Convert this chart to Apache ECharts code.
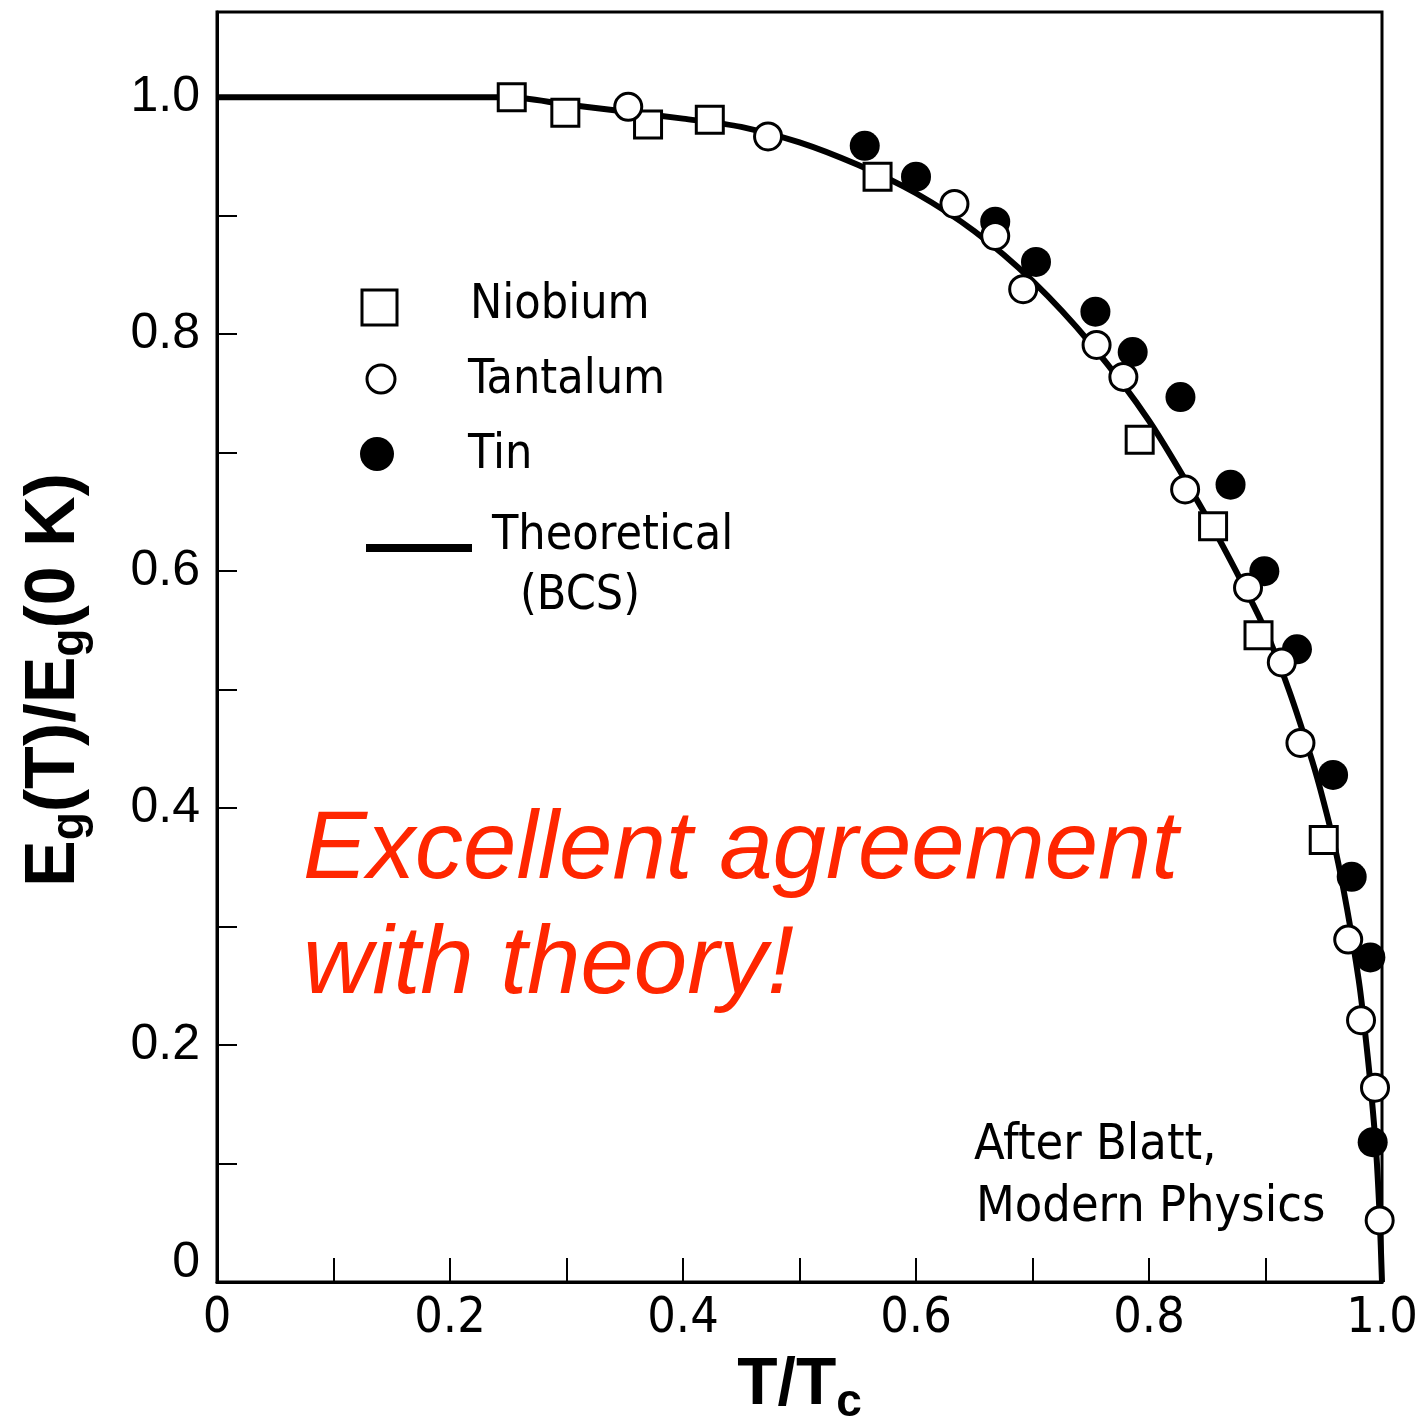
<!DOCTYPE html>
<html>
<head>
<meta charset="utf-8">
<title>Energy gap vs temperature</title>
<script src="https://cdn.jsdelivr.net/npm/echarts@6/dist/echarts.min.js"></script>
<style>
  html, body { margin: 0; padding: 0; background: #fff; }
  #chart { width: 1416px; height: 1425px; }
</style>
</head>
<body>
<div id="chart"></div>
<script>
/* ── Data ─────────────────────────────────────────────────────────── */
const niobium = [
    [0.253, 1.000], [0.299, 0.987], [0.370, 0.977], [0.423, 0.981], [0.567, 0.933],
    [0.792, 0.711], [0.855, 0.638], [0.894, 0.546], [0.950, 0.373]
];
const tantalum = [
    [0.353, 0.992], [0.473, 0.967], [0.633, 0.910], [0.668, 0.883], [0.692, 0.838],
    [0.755, 0.791], [0.778, 0.764], [0.831, 0.669], [0.885, 0.586], [0.914, 0.523],
    [0.930, 0.455], [0.971, 0.289], [0.982, 0.221], [0.994, 0.164], [0.998, 0.052]
];
const tin = [
    [0.556, 0.959], [0.600, 0.933], [0.668, 0.895], [0.703, 0.861], [0.754, 0.819],
    [0.786, 0.785], [0.827, 0.747], [0.870, 0.673], [0.899, 0.600], [0.927, 0.534],
    [0.958, 0.428], [0.974, 0.342], [0.990, 0.274], [0.992, 0.118]
];
// BCS theoretical curve
const bcsCurve = [
    [0, 1.0], [0.1, 1.0], [0.2, 1.0], [0.25, 1.0], [0.3, 0.994], [0.35, 0.988],
    [0.4, 0.982], [0.45, 0.975], [0.5, 0.962], [0.55, 0.943], [0.6, 0.919],
    [0.65, 0.887], [0.7, 0.845], [0.75, 0.792], [0.8, 0.727], [0.85, 0.645],
    [0.88, 0.590], [0.9, 0.550], [0.92, 0.500], [0.94, 0.440], [0.95, 0.405],
    [0.96, 0.365], [0.97, 0.315], [0.98, 0.255], [0.985, 0.215], [0.99, 0.168],
    [0.995, 0.110], [0.998, 0.055], [1.0, 0]
];
const legendNames = ['Niobium', 'Tantalum', 'Tin'];

/* ── Helpers ──────────────────────────────────────────────────────── */
const PIX = '"DejaVu Sans Condensed", "DejaVu Sans", sans-serif';
const SANS = '"Liberation Sans", Arial, sans-serif';

function tickLabel(v) {
    const k = Math.round(v * 10);
    if (k % 2 !== 0) return '';
    return k === 0 ? '0' : (k / 10).toFixed(1);
}

// y axis: the zero label sits a little above the axis in the original
function yTickLabel(v) {
    const s = tickLabel(v);
    return s === '0' ? '{z|0}' : s;
}

function label(text, x, y, size, extra) {
    return Object.assign({
        type: 'text', x, y, z: 20,
        style: { text, fill: '#000', font: `${size}px ${PIX}`, verticalAlign: 'middle' }
    }, extra || {});
}

/* ── Chart ────────────────────────────────────────────────────────── */
const chart = echarts.init(document.getElementById('chart'));

const option = {
    backgroundColor: '#fff',
    animation: false,
    grid: {
        left: 217, right: 34, top: 12, bottom: 143,
        containLabel: false, outerBoundsMode: 'none',
        show: true, borderColor: '#000', borderWidth: 3
    },
    xAxis: {
        type: 'value', min: 0, max: 1, interval: 0.1,
        name: '{t|T/T}{s|c}',
        nameLocation: 'middle', nameGap: 64,
        nameTextStyle: {
            rich: {
                t: { fontSize: 66, fontWeight: 'bold', fontFamily: SANS, color: '#000' },
                s: { fontSize: 46, fontWeight: 'bold', fontFamily: SANS, color: '#000', padding: [34, 0, 0, 0] }
            }
        },
        axisLine: { lineStyle: { color: '#000', width: 3 } },
        axisTick: { inside: true, length: 24, lineStyle: { color: '#000', width: 2 } },
        axisLabel: { formatter: tickLabel, color: '#000', fontSize: 50, fontFamily: PIX, margin: 12 },
        splitLine: { show: false }
    },
    yAxis: {
        type: 'value', min: 0, max: 1.072, interval: 0.1,
        name: '{t|E}{s|g}{t|(T)/E}{s|g}{t|(0 K)}',
        nameLocation: 'middle', nameGap: 124, nameRotate: 90,
        nameTextStyle: {
            padding: [0, 66, 0, 0],
            rich: {
                t: { fontSize: 70, fontWeight: 'bold', fontFamily: SANS, color: '#000' },
                s: { fontSize: 46, fontWeight: 'bold', fontFamily: SANS, color: '#000', padding: [30, 0, 0, 0] }
            }
        },
        axisLine: { lineStyle: { color: '#000', width: 3 } },
        axisTick: { inside: true, length: 20, lineStyle: { color: '#000', width: 2 } },
        axisLabel: {
            formatter: yTickLabel, color: '#000', fontSize: 50, fontFamily: SANS, margin: 17,
            rich: { z: { fontSize: 50, fontFamily: SANS, color: '#000', padding: [0, 0, 38, 0] } }
        },
        splitLine: { show: false }
    },
    series: [
        {
            name: 'Theoretical (BCS)', type: 'line', data: bcsCurve, z: 2,
            showSymbol: false, smooth: 0.3,
            lineStyle: { color: '#000', width: 6 }
        },
        {
            name: legendNames[0], type: 'scatter', data: niobium, z: 3,
            symbol: 'rect', symbolSize: 27,
            itemStyle: { color: '#fff', borderColor: '#000', borderWidth: 3, opacity: 1 }
        },
        {
            name: legendNames[2], type: 'scatter', data: tin, z: 3,
            symbol: 'circle', symbolSize: 30,
            itemStyle: { color: '#000', borderColor: '#000', borderWidth: 0, opacity: 1 }
        },
        {
            name: legendNames[1], type: 'scatter', data: tantalum, z: 4,
            symbol: 'circle', symbolSize: 27,
            itemStyle: { color: '#fff', borderColor: '#000', borderWidth: 3, opacity: 1 }
        }
    ],
    graphic: [
        // legend
        { type: 'rect', shape: { x: 362, y: 290, width: 35, height: 35 }, z: 20,
          style: { fill: '#fff', stroke: '#000', lineWidth: 3 } },
        { type: 'circle', shape: { cx: 381, cy: 379, r: 14 }, z: 20,
          style: { fill: '#fff', stroke: '#000', lineWidth: 3 } },
        { type: 'circle', shape: { cx: 377, cy: 454, r: 17 }, z: 20,
          style: { fill: '#000' } },
        { type: 'line', shape: { x1: 366, y1: 548, x2: 472, y2: 548 }, z: 20,
          style: { stroke: '#000', lineWidth: 8 } },
        label(legendNames[0], 470, 306, 48),
        label(legendNames[1], 468, 381, 48),
        label(legendNames[2], 468, 456, 48),
        label('Theoretical', 492, 537, 48),
        label('(BCS)', 520, 597, 48),
        // source note
        label('After Blatt,', 974, 1146, 50),
        label('Modern Physics', 976, 1208, 50),
        // annotation
        { type: 'text', x: 303, y: 851, z: 20,
          style: { text: 'Excellent agreement', fill: '#ff2600',
                   font: `italic 96px ${SANS}`, verticalAlign: 'middle' } },
        { type: 'text', x: 303, y: 966, z: 20,
          style: { text: 'with theory!', fill: '#ff2600',
                   font: `italic 96px ${SANS}`, verticalAlign: 'middle' } }
    ]
};

chart.setOption(option);
window.addEventListener('resize', () => chart.resize());
</script>
</body>
</html>
